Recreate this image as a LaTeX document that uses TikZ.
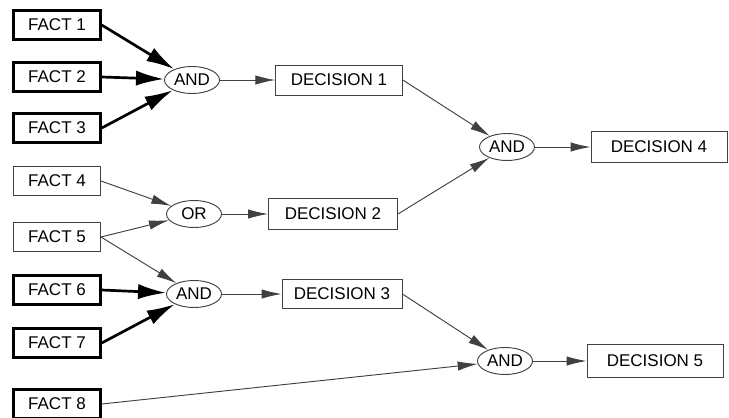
\documentclass[tikz,border=0pt]{standalone}
\usepackage{fontspec}
\setmainfont{Liberation Sans}
\usetikzlibrary{arrows.meta,shapes.geometric}

\begin{document}
\begin{tikzpicture}[x=0.03cm, y=-0.03cm,
  fact/.style={draw=black!75, line width=0.8pt, minimum width=2.61cm, minimum height=0.87cm, inner sep=0pt, font=\fontsize{14.5}{17}\selectfont},
  strongfact/.style={fact, draw=black, line width=2.1pt},
  dec/.style={fact, minimum width=3.8cm, minimum height=0.9cm},
  gate/.style={draw=black!75, line width=0.8pt, ellipse, minimum width=1.65cm, minimum height=0.81cm, inner sep=0pt, font=\fontsize{14.5}{17}\selectfont},
  link/.style={-{Latex[length=17pt, width=8pt]}, black!75, line width=0.8pt},
  strong/.style={-{Latex[length=24pt, width=13pt]}, black, line width=2.3pt}]
\useasboundingbox (0,0) rectangle (729,417);

% facts
\node[strongfact] (f1) at (57,25)  {FACT 1};
\node[strongfact] (f2) at (57,77)  {FACT 2};
\node[strongfact] (f3) at (57,128) {FACT 3};
\node[fact]       (f4) at (57,181) {FACT 4};
\node[fact]       (f5) at (57,237) {FACT 5};
\node[strongfact] (f6) at (57,290) {FACT 6};
\node[strongfact] (f7) at (57,343) {FACT 7};
\node[strongfact] (f8) at (57,404) {FACT 8};

% gates and decisions
\node[gate] (g1) at (192,80)  {AND};
\node[dec]  (d1) at (339,80)  {DECISION 1};
\node[gate] (g2) at (194,214) {OR};
\node[dec, minimum width=3.87cm, minimum height=0.93cm] (d2) at (333,214) {DECISION 2};
\node[gate] (g3) at (194,294) {AND};
\node[dec, minimum width=3.6cm, minimum height=0.87cm]  (d3) at (342,294) {DECISION 3};
\node[gate] (g4) at (507,147) {AND};
\node[dec, minimum width=4.08cm, minimum height=0.93cm] (d4) at (659,147) {DECISION 4};
\node[gate] (g5) at (505,361) {AND};
\node[dec, minimum width=4.08cm, minimum height=0.99cm] (d5) at (655,361) {DECISION 5};

% connections
\draw[strong] (f1.east) -- (g1);
\draw[strong] (f2.east) -- (g1);
\draw[strong] (f3.east) -- (g1);
\draw[link] (g1) -- (d1);
\draw[link] (f4.east) -- (g2);
\draw[link] (f5.east) -- (g2);
\draw[link] (g2) -- (d2);
\draw[link] (f5.east) -- (g3);
\draw[strong] (f6.east) -- (g3);
\draw[strong] (f7.east) -- (g3);
\draw[link] (g3) -- (d3);
\draw[link] (d1.east) -- (g4);
\draw[link] (d2.east) -- (g4);
\draw[link] (g4) -- (d4);
\draw[link] (d3.east) -- (g5);
\draw[link] (f8.east) -- (g5);
\draw[link] (g5) -- (d5);
\end{tikzpicture}
\end{document}
